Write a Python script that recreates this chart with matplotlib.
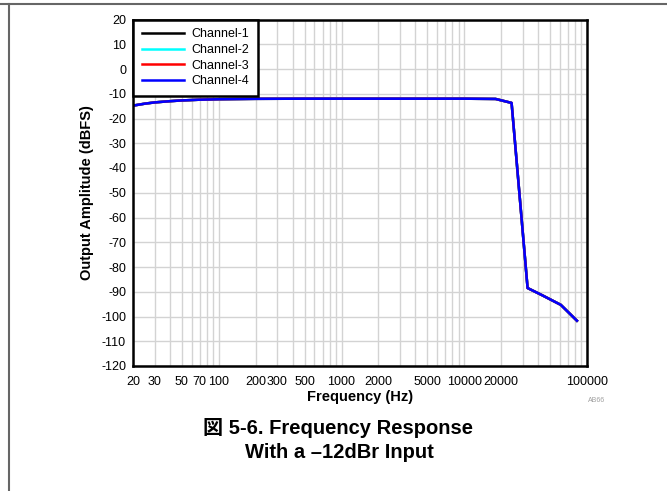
import matplotlib
matplotlib.use("Agg")
import matplotlib.pyplot as plt
from matplotlib.ticker import FixedLocator, FixedFormatter, LogLocator, NullFormatter
from matplotlib.lines import Line2D

plt.rcParams['font.family'] = ['Liberation Sans', 'Noto Sans CJK JP', 'DejaVu Sans']
plt.rcParams['axes.unicode_minus'] = False

freq_hz = [20, 25, 30, 40, 50, 70, 100, 200, 500, 1000, 5000, 10000, 18000, 24300, 32800, 42700, 61200, 82800]
channel_1 = [-14.8, -14.0, -13.5, -13.0, -12.7, -12.4, -12.2, -12.05, -12.0, -12.0, -12.0, -12.0, -12.1, -13.7, -88.5, -91.3, -95.3, -101.7]
channel_2 = [-14.8, -14.0, -13.5, -13.0, -12.7, -12.4, -12.2, -12.05, -12.0, -12.0, -12.0, -12.0, -12.1, -13.7, -88.5, -91.3, -95.3, -101.7]
channel_3 = [-14.8, -14.0, -13.5, -13.0, -12.7, -12.4, -12.2, -12.05, -12.0, -12.0, -12.0, -12.0, -12.1, -13.7, -88.5, -91.3, -95.3, -101.7]
channel_4 = [-14.8, -14.0, -13.5, -13.0, -12.7, -12.4, -12.2, -12.05, -12.0, -12.0, -12.0, -12.0, -12.1, -13.7, -88.5, -91.3, -95.3, -101.7]
series_names = ['Channel-1', 'Channel-2', 'Channel-3', 'Channel-4']
series_colors = ['#000000', '#00FFFF', '#FF0000', '#0000FF']
x_ticks = [20, 30, 50, 70, 100, 200, 300, 500, 1000, 2000, 5000, 10000, 20000, 100000]
y_ticks = list(range(-120, 21, 10))

fig = plt.figure(figsize=(6.67, 4.91), dpi=100)
ax = fig.add_axes([133/667, 1-366/491, (587-133)/667, (366-19.5)/491])

for vals, name, col in zip([channel_1, channel_2, channel_3, channel_4], series_names, series_colors):
    ax.plot(freq_hz, vals, color=col, lw=1.8, label=name, zorder=3)

ax.set_xscale('log')
ax.set_xlim(20, 100000)
ax.set_ylim(-120, 20)
ax.xaxis.set_major_locator(FixedLocator(x_ticks))
ax.xaxis.set_major_formatter(FixedFormatter([str(t) for t in x_ticks]))
ax.xaxis.set_minor_locator(LogLocator(base=10, subs=range(1, 10), numticks=20))
ax.xaxis.set_minor_formatter(NullFormatter())
ax.set_yticks(y_ticks)
ax.grid(True, which='both', axis='x', color='#d3d3d3', lw=1.0, zorder=0)
ax.grid(True, which='major', axis='y', color='#d3d3d3', lw=1.0, zorder=0)
ax.tick_params(which='both', length=0, labelsize=9)
ax.tick_params(axis='x', pad=7)
ax.tick_params(axis='y', pad=5)
for s in ax.spines.values():
    s.set_linewidth(1.8)
    s.set_zorder(5)

ax.set_xlabel('Frequency (Hz)', fontsize=10.5, fontweight='bold', labelpad=2)
ax.set_ylabel('Output Amplitude (dBFS)', fontsize=10.5, fontweight='bold', labelpad=5)

leg = ax.legend(loc='upper left', fontsize=9, frameon=True, fancybox=False,
                borderaxespad=0, handlelength=3.4, labelspacing=0.3, borderpad=0.7,
                handletextpad=0.6)
leg.get_frame().set_edgecolor('black')
leg.get_frame().set_linewidth(1.8)
leg.get_frame().set_alpha(1)

fig.text(597/667, 1-400/491, 'AB66', fontsize=5, color='#a0a0a0', ha='center', va='center')
fig.text(338/667, 1-428/491, '図 5-6. Frequency Response', fontsize=14.5, fontweight='bold',
         ha='center', va='center')
fig.text(339/667, 1-452/491, 'With a \u201312dBr Input', fontsize=14.5, fontweight='bold',
         ha='center', va='center')

fig.add_artist(Line2D([0, 1], [1-3.5/491, 1-3.5/491], color='#666666', lw=1.5, transform=fig.transFigure))
fig.add_artist(Line2D([8.5/667, 8.5/667], [0, 1-3.5/491], color='#666666', lw=1.5, transform=fig.transFigure))

fig.savefig('out.png', dpi=100)
